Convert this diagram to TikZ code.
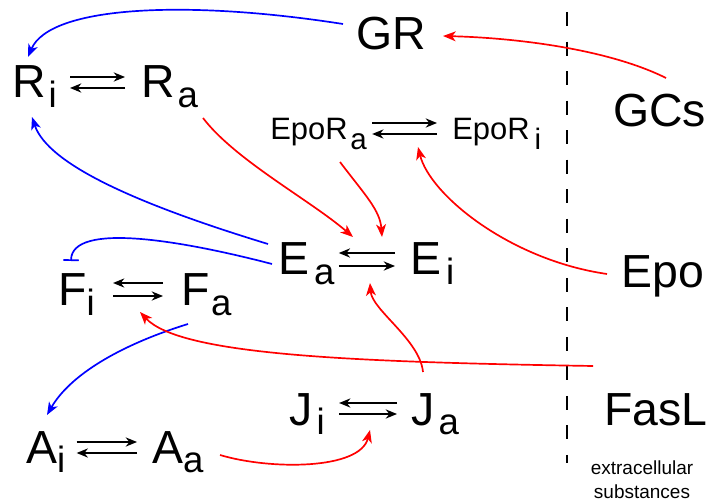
\documentclass[tikz,border=0pt]{standalone}
\usepackage{fontspec}
\setmainfont{Liberation Sans}
\usepackage{tikz}
\usetikzlibrary{arrows.meta,calc}
\definecolor{linkred}{HTML}{FF0000}
\definecolor{linkblue}{HTML}{0000FF}
\newcommand{\spc}[3][2pt]{#2\kern#1\raisebox{-7pt}{\fontsize{26}{26}\selectfont #3}}
\newcommand{\rcp}[3][2pt]{#2\kern#1\raisebox{-7pt}{\fontsize{21}{21}\selectfont #3}}
\tikzset{
  species/.style={inner sep=0pt,font=\fontsize{33}{33}\selectfont,anchor=base west},
  receptor/.style={inner sep=0pt,font=\fontsize{22}{22}\selectfont,anchor=base west},
  note/.style={inner sep=0pt,font=\fontsize{13.5}{17}\selectfont,align=center},
  rxn/.style={draw=black,line width=1.2pt,-{Stealth[length=8pt,width=6.5pt,inset=2.5pt]}},
  act/.style={draw=linkred,line width=1.2pt,-{Stealth[length=9pt,width=7pt,inset=2.5pt]}},
  actb/.style={act,draw=linkblue},
  inh/.style={draw=linkblue,line width=1.2pt,-{Bar[width=11pt]}},
  membrane/.style={draw=black,line width=1.2pt,dash pattern=on 10pt off 11pt},
}
\begin{document}
\begin{tikzpicture}[x=0.025cm,y=-0.025cm]
  \useasboundingbox (0,0) rectangle (707,503);
  % species
  \node[species] (GR) at (356,50) {GR};
  \node[species] (Ri) at (12,98) {\spc{R}{i}};
  \node[species] (Ra) at (141,98) {\spc{R}{a}};
  \node[receptor] (EpoRa) at (270,140) {\rcp{EpoR}{a}};
  \node[receptor] (EpoRi) at (452,140) {\rcp[3.5pt]{EpoR}{i}};
  \node[species] (Ea) at (278,275) {\spc[3.5pt]{E}{a}};
  \node[species] (Ei) at (410,275) {\spc[3.5pt]{E}{i}};
  \node[species] (Fi) at (58,306) {\spc[0pt]{F}{i}};
  \node[species] (Fa) at (181,306) {\spc[1pt]{F}{a}};
  \node[species] (Ji) at (289,425) {\spc[3pt]{J}{i}};
  \node[species] (Ja) at (411,425) {\spc[3pt]{J}{a}};
  \node[species] (Ai) at (26,463) {\spc[0pt]{A}{i}};
  \node[species] (Aa) at (152,463) {\spc[0pt]{A}{a}};
  % extracellular side
  \node[species] (GCs) at (613,127) {GCs};
  \node[species] (Epo) at (621,288) {Epo};
  \node[species] (FasL) at (604,425) {FasL};
  \node[note] (ecs) at (642,480) {extracellular\\substances};
  \draw[membrane] (567,12) -- (567,463);
  % reversible steps
  \draw[rxn] ($(Ri.base east)+(13,-21)$) -- ($(Ra.base west)+(-16,-21)$);
  \draw[rxn] ($(Ra.base west)+(-16,-10)$) -- ($(Ri.base east)+(13,-10)$);
  \draw[rxn] ($(EpoRa.base east)+(5,-17)$) -- ($(EpoRi.base west)+(-15,-17)$);
  \draw[rxn] ($(EpoRi.base west)+(-15,-6)$) -- ($(EpoRa.base east)+(5,-6)$);
  \draw[rxn] ($(Ei.base west)+(-15,-22)$) -- ($(Ea.base east)+(4,-22)$);
  \draw[rxn] ($(Ea.base east)+(4,-9)$) -- ($(Ei.base west)+(-15,-9)$);
  \draw[rxn] ($(Fa.base west)+(-18,-23)$) -- ($(Fi.base east)+(18,-23)$);
  \draw[rxn] ($(Fi.base east)+(18,-10)$) -- ($(Fa.base west)+(-18,-10)$);
  \draw[rxn] ($(Ja.base west)+(-14,-22)$) -- ($(Ji.base east)+(14,-22)$);
  \draw[rxn] ($(Ji.base east)+(14,-11)$) -- ($(Ja.base west)+(-14,-11)$);
  \draw[rxn] ($(Ai.base east)+(11,-21)$) -- ($(Aa.base west)+(-15,-21)$);
  \draw[rxn] ($(Aa.base west)+(-15,-10)$) -- ($(Ai.base east)+(11,-10)$);
  % blue links
  \draw[actb] ($(GR.base west)+(-13,-26)$) .. controls +(-153,-24) and +(22,-52) .. ($(Ri.base west)+(16,-41)$);
  \draw[actb] ($(Ea.base west)+(-10,-31)$) .. controls +(-128,-39) and +(16,48) .. ($(Ri.base west)+(20,19)$);
  \draw[inh] ($(Ea.base west)+(-6,-11)$) .. controls +(-92,-24) and +(1,-39) .. ($(Fi.base west)+(13,-45)$);
  \draw[actb] ($(Fa.base west)+(7,18)$) .. controls +(-68,21) and +(23,-40) .. ($(Ai.base west)+(21,-48)$);
  % red links
  \draw[act] ($(GCs.base west)+(53,-49)$) .. controls +(-56,-28) and +(77,2) .. ($(GR.base west)+(87,-14)$);
  \draw[act] ($(Ra.base west)+(62,20)$) .. controls +(32,42) and +(-43,-37) .. ($(Ea.base west)+(75,-38)$);
  \draw[act] ($(EpoRa.base west)+(70,22)$) .. controls +(25,33) and +(-2,-27) .. ($(Ea.base west)+(104,-38)$);
  \draw[act] ($(Epo.base west)+(-14,-14)$) .. controls +(-97,-14) and +(12,48) .. ($(EpoRi.base west)+(-34,7)$);
  \draw[act] ($(Ja.base west)+(12,-53)$) .. controls +(-3,-32) and +(2,27) .. ($(Ei.base west)+(-40,8)$);
  \draw[act] ($(FasL.base west)+(-11,-59)$) .. controls +(-243,-4) and +(40,43) .. ($(Fi.base west)+(82,6)$);
  \draw[act] ($(Aa.base west)+(68,-8)$) .. controls +(50,15) and +(-10,40) .. ($(Ji.base west)+(81,5)$);
\end{tikzpicture}
\end{document}
